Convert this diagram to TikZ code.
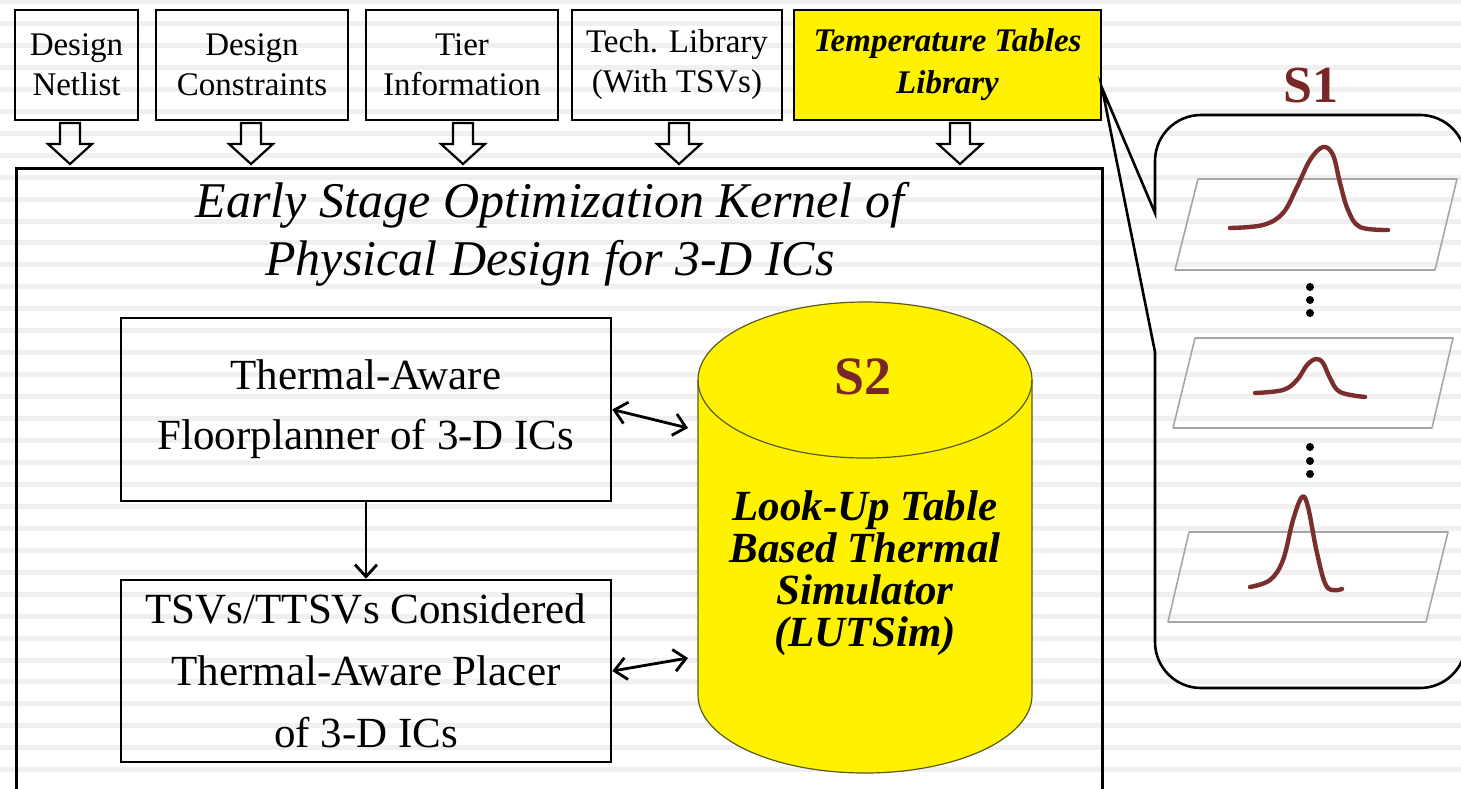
\documentclass[tikz,border=0pt]{standalone}
\usepackage{fontspec}
\setmainfont{Liberation Serif}
\usetikzlibrary{arrows.meta}
\definecolor{stripe}{HTML}{F0F0F0}
\definecolor{maroon}{RGB}{120,38,38}
\definecolor{curvecol}{RGB}{122,46,46}
\definecolor{planegray}{HTML}{A6A6A6}
\definecolor{cylline}{HTML}{5A5A20}

\tikzset{
  inbox/.style={draw, line width=2.6pt, align=center, inner sep=0pt,
    font=\fontsize{33}{40}\selectfont},
  topbox/.style={inbox, minimum height=110pt},
  stagebox/.style={inbox, minimum width=490pt},
  conn/.style={line width=2.8pt, line cap=round},
  barb/.tip={Straight Barb[length=12pt,width=22pt,line width=2.8pt]},
  plane/.style={draw=planegray, line width=1.6pt, line join=round},
  pulse/.style={draw=curvecol, line width=4.4pt, line cap=round, line join=round},
  hollow down/.pic={
    \draw[line width=2.2pt, line join=miter]
      (-10,0) -- (10,0) -- (10,21) -- (22,21) -- (0,41) -- (-22,21) -- (-10,21) -- cycle;
  }
}

\begin{document}
\begin{tikzpicture}[x=1pt,y=-1pt]
\useasboundingbox (0,0) rectangle (1461,788);
\clip (0,0) rectangle (1461,788);

% striped page background
\fill[white] (0,0) rectangle (1461,788);
\foreach \k in {0,...,36}
  \fill[stripe] (0,{21.95*\k-1}) rectangle (1461,{21.95*\k+4});

% input boxes
\node[topbox, minimum width=123pt] (netlist) at (76.5,65) {Design\\Netlist};
\node[topbox, minimum width=192pt] (constr) at (252,65) {Design\\Constraints};
\node[topbox, minimum width=192pt] (tier) at (462,65) {Tier\\Information};
\node[topbox, minimum width=210pt] (tech) at (677,65) {Tech. Library\\(With TSVs)};
\node[topbox, minimum width=307pt, fill=yellow,
      font=\fontsize{33}{42}\selectfont\bfseries\itshape] (temp) at (947.5,65)
      {Temperature Tables\\Library};

% hollow block arrows feeding the kernel
\pic at (70,123) {hollow down};
\pic at (251,123) {hollow down};
\pic at (463,123) {hollow down};
\pic at (679,123) {hollow down};
\pic at (960,123) {hollow down};

% optimization kernel
\node[draw, line width=2.6pt, anchor=north west, inner sep=0pt,
      minimum width=1086pt, minimum height=700pt] (kernel) at (15,167) {};
\node[align=center, font=\fontsize{50}{58}\selectfont\itshape] (title) at (550,234)
  {Early Stage Optimization Kernel of\\Physical Design for 3-D ICs};

% floorplanner and placer
\node[stagebox, minimum height=183pt, font=\fontsize{43}{60}\selectfont] (floor) at (366,409.5)
  {Thermal-Aware\\Floorplanner of 3-D ICs};
\node[stagebox, minimum height=182pt, font=\fontsize{43}{62}\selectfont] (placer) at (366,671)
  {TSVs/TTSVs Considered\\Thermal-Aware Placer\\of 3-D ICs};
\draw[conn, -barb] (floor) -- (placer);

% look-up table thermal simulator (cylinder; y axis points down here)
\fill[yellow] (698,380) -- (698,695) arc (180:0:167 and 78) -- (1032,380)
  arc (0:-180:167 and 78) -- cycle;
\draw[cylline, line width=1.2pt] (698,380) -- (698,695) arc (180:0:167 and 78) -- (1032,380);
\draw[cylline, line width=1.2pt] (865,380) ellipse [x radius=167, y radius=78];
\node[font=\fontsize{54}{54}\selectfont\bfseries, text=maroon] (s2) at (863,377) {S2};
\node[align=center, font=\fontsize{43}{42}\selectfont\bfseries\itshape] (luttext) at (865,573)
  {Look-Up Table\\Based Thermal\\Simulator\\(LUTSim)};
\coordinate (lutin1) at (688,428);
\coordinate (lutin2) at (688,658);
\draw[conn, barb-barb] (floor.east) -- (lutin1);
\draw[conn, barb-barb] (placer.east) -- (lutin2);

% callout with temperature tables
\coordinate (ctip) at (1102,88);
\draw[line width=2.6pt, line join=miter] (1155,352) -- (ctip) -- (1155,213)
  [rounded corners=46pt] -- (1155,115) -- (1466,115) -- (1466,688) -- (1155,688) -- (1155,352);
\node[font=\fontsize{52}{52}\selectfont\bfseries, text=maroon] (s1) at (1311,86) {S1};

\draw[plane] (1198,179) -- (1457,179) -- (1435,270) -- (1175,270) -- cycle;
\draw[plane] (1195,338) -- (1453,338) -- (1432,428) -- (1173,428) -- cycle;
\draw[plane] (1189,532) -- (1448,532) -- (1426,622) -- (1168,622) -- cycle;

\draw[pulse] plot[smooth, tension=0.6] coordinates {(1230,228) (1263,225) (1283,213)
  (1297,187) (1310,160) (1323,147) (1333,155) (1340,183) (1348,210) (1360,227) (1388,230)};
\draw[pulse] plot[smooth, tension=0.6] coordinates {(1255,393) (1283,390) (1297,380)
  (1307,365) (1316,359) (1323,363) (1330,378) (1340,392) (1365,397)};
\draw[pulse] plot[smooth, tension=0.6] coordinates {(1250,587) (1270,580) (1283,560)
  (1293,520) (1302,497) (1308,507) (1317,553) (1327,587) (1342,589)};

\foreach \y in {287,300,313,447,461,474}
  \fill (1310,\y) circle[radius=4pt];
\end{tikzpicture}
\end{document}
